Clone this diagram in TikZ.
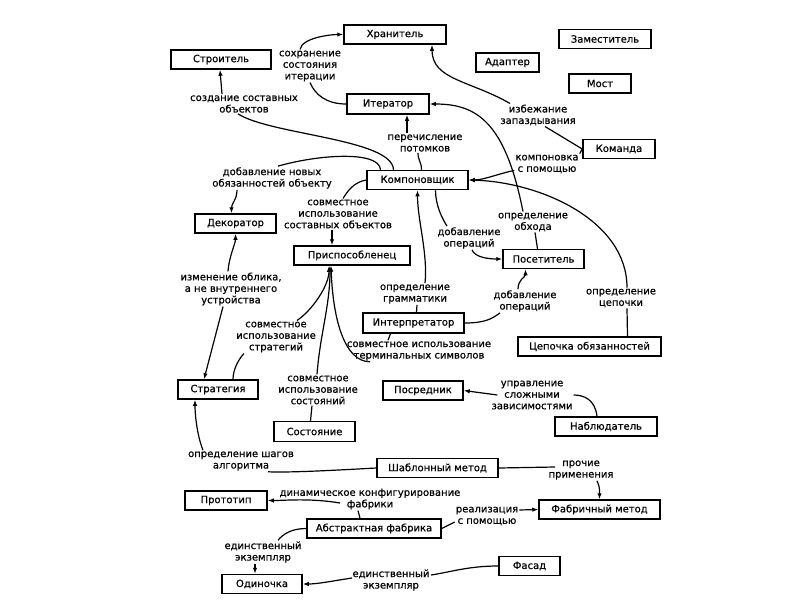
\documentclass[tikz,border=0pt]{standalone}
\usepackage{fontspec}
\setmainfont{DejaVu Sans}[FakeBold=0.6]
\usetikzlibrary{arrows.meta}
\begin{document}
\begin{tikzpicture}[x=1pt,y=-1pt,
  pat/.style={draw, line width=1.5pt, fill=white, minimum height=19pt, inner sep=0pt, font=\fontsize{10}{12}\selectfont},
  lab/.style={align=center, inner sep=1pt, font=\fontsize{10}{11.5}\selectfont},
  con/.style={line width=1.2pt},
  arr/.style={con, -{Latex[length=6pt,width=4.5pt]}}]
\fill[white] (0,0) rectangle (800,600);
\useasboundingbox (0,0) rectangle (800,600);
% pattern boxes
\node[pat,minimum width=102pt] (hran) at (395,34.5) {Хранитель};
\node[pat,minimum width=100pt] (stroi) at (221,59.5) {Строитель};
\node[pat,minimum width=92pt] (zam) at (605,39) {Заместитель};
\node[pat,minimum width=63pt] (adapt) at (507.5,62.5) {Адаптер};
\node[pat,minimum width=62pt] (most) at (600,83.5) {Мост};
\node[pat,minimum width=82pt,minimum height=20pt] (iter) at (388,104) {Итератор};
\node[pat,minimum width=72pt] (kom) at (619,149) {Команда};
\node[pat,minimum width=101pt] (komp) at (417.5,180) {Компоновщик};
\node[pat,minimum width=81pt] (dek) at (235.5,223.5) {Декоратор};
\node[pat,minimum width=116pt] (prisp) at (352,255.5) {Приспособленец};
\node[pat,minimum width=81pt] (pos) at (543.5,259) {Посетитель};
\node[pat,minimum width=101pt,minimum height=20pt] (interp) at (413.5,323) {Интерпретатор};
\node[pat,minimum width=143pt] (cep) at (589.5,346.5) {Цепочка обязанностей};
\node[pat,minimum width=80pt] (strat) at (218,389.5) {Стратегия};
\node[pat,minimum width=80pt] (posr) at (423,390.5) {Посредник};
\node[pat,minimum width=81pt,minimum height=20pt] (sost) at (314.5,431.5) {Состояние};
\node[pat,minimum width=102pt] (nabl) at (606,426.5) {Наблюдатель};
\node[pat,minimum width=121pt] (shab) at (437.5,468) {Шаблонный метод};
\node[pat,minimum width=82pt] (proto) at (226,500.5) {Прототип};
\node[pat,minimum width=121pt] (fabm) at (599.5,509.5) {Фабричный метод};
\node[pat,minimum width=134pt] (absf) at (374,528.5) {Абстрактная фабрика};
\node[pat,minimum width=80pt] (odin) at (262,584) {Одиночка};
\node[pat,minimum width=61pt] (fasad) at (529.5,566) {Фасад};
% labels
\node[lab] (l1) at (310,66) {сохранение\\состояния\\итерации};
\node[lab] (l2) at (244,104) {создание составных\\объектов};
\node[lab] (l3) at (425,143) {перечисление\\потомков};
\node[lab] (l4) at (272,178) {добавление новых\\обязанностей объекту};
\node[lab] (l5) at (338,214) {совместное\\использование\\составных объектов};
\node[lab] (l6) at (231,289) {изменение облика,\\а не внутреннего\\устройства};
\node[lab] (l7) at (415,294) {определение\\грамматики};
\node[lab] (l8) at (525,301) {добавление\\операций};
\node[lab] (l9) at (533,222) {определение\\обхода};
\node[lab] (l10) at (469,238) {добавление\\операций};
\node[lab] (l11) at (621,298) {определение\\цепочки};
\node[lab] (l12) at (538,115) {избежание\\запаздывания};
\node[lab] (l13) at (547,164) {компоновка\\с помощью};
\node[lab] (l14) at (276,337) {совместное\\использование\\стратегий};
\node[lab] (l15) at (419,351) {совместное использование\\терминальных символов};
\node[lab] (l16) at (318,390) {совместное\\использование\\состояний};
\node[lab] (l17) at (532,395) {управление\\сложными\\зависимостями};
\node[lab] (l18) at (241,461) {определение шагов\\алгоритма};
\node[lab] (l19) at (581,470) {прочие\\применения};
\node[lab] (l20) at (370,499) {динамическое конфигурирование\\фабрики};
\node[lab] (l21) at (487,516) {реализация\\с помощью};
\node[lab] (l22) at (263,552) {единственный\\экземпляр};
\node[lab] (l23) at (391,580) {единственный\\экземпляр};
% connectors
\draw[con] (iter.west) .. controls +(-20,0) and +(5,12) .. (l1.south);
\draw[arr] ([xshift=-10pt]l1.north) .. controls +(2,-12) and +(-12,0) .. (hran.west);
\draw[con] ([xshift=-24pt]komp.north) .. controls +(-1,-31) and +(32,21) .. ([xshift=-6pt]l2.south);
\draw[arr] ([xshift=-22pt]l2.north) -- ([xshift=-1pt]stroi.south);
\draw[con] ([xshift=4pt]komp.north) .. controls +(0,-8) and +(0,8) .. ([xshift=-7pt]l3.south);
\draw[arr] ([xshift=-18pt]l3.north) -- ([xshift=19pt]iter.south);
\draw[con] ([xshift=-37pt]komp.north) .. controls +(-1,-19) and +(42,-12) .. ([xshift=6pt]l4.north);
\draw[arr] ([xshift=-35pt]l4.south) .. controls +(0,10) and +(0,-10) .. ([xshift=-4pt]dek.north);
\draw[con] (komp.west) .. controls +(-12,2) and +(5,-8) .. ([xshift=5pt]l5.north);
\draw[arr] ([xshift=-6pt]l5.south) -- ([xshift=-20pt]prisp.north);
\draw[con] ([xshift=18pt]komp.south) .. controls +(0,15) and +(-5,-8) .. ([xshift=-22pt]l10.north);
\draw[arr] ([xshift=3pt]l10.south) .. controls +(3,8) and +(-12,0) .. (pos.west);
\draw[con] ([xshift=38pt]cep.north) -- ([xshift=6pt]l11.south);
\draw[arr] ([xshift=6pt]l11.north) .. controls +(0,-67) and +(72,2) .. (komp.east);
\draw[con] (kom.west) -- (l13.north east);
\draw[arr] ([yshift=4pt]l13.south west) .. controls +(-15,3) and +(15,0) .. (komp.east);
\draw[con] (kom.west) -- ([xshift=7pt]l12.south);
\draw[arr] ([xshift=-28pt]l12.north) .. controls +(-40,-23) and +(0,35) .. ([xshift=37pt]hran.south);
\draw[con] ([xshift=-6pt]pos.north) -- ([xshift=2pt]l9.south);
\draw[arr] ([xshift=-10pt]l9.north) .. controls +(-18,-91) and +(46,0) .. (iter.east);
\draw[con] ([xshift=3pt]interp.north) -- ([xshift=2pt]l7.south);
\draw[arr] ([xshift=10pt]l7.north) .. controls +(3,-30) and +(0,30) .. (komp.south);
\draw[con] (interp.east) .. controls +(20,0) and +(-8,6) .. ([xshift=-25pt]l8.south);
\draw[arr] ([xshift=-7pt]l8.north) .. controls +(0,-10) and +(0,8) .. ([xshift=-18pt]pos.south);
\draw[con] ([xshift=-23pt]interp.south) -- ([xshift=-31pt]l15.north);
\draw[arr] ([xshift=-49pt]l15.south) .. controls +(-25,0) and +(2,55) .. ([xshift=-21pt]prisp.south);
\draw[con] ([xshift=15pt]strat.north) .. controls +(0,-10) and +(-5,5) .. ([xshift=-32pt]l14.south);
\draw[arr] ([xshift=21pt]l14.north) .. controls +(15,-10) and +(0,20) .. ([xshift=-23pt]prisp.south);
\draw[con] ([xshift=-4pt]sost.north) -- ([xshift=-6pt]l16.south);
\draw[arr] ([xshift=-1pt]l16.north) .. controls +(3,-40) and +(0,40) .. ([xshift=-22pt]prisp.south);
\draw[arr] ([xshift=-3pt]l6.north) .. controls +(1,-15) and +(0,10) .. (dek.south);
\draw[arr] ([xshift=-8pt]l6.south) -- ([xshift=-14pt]strat.north);
\draw[con] (shab.west) .. controls +(-37,2) and +(22,1) .. ([xshift=27pt]l18.south);
\draw[arr] ([xshift=-38pt]l18.north) .. controls +(-6,-15) and +(0,15) .. ([xshift=-23pt]strat.south);
\draw[con] ([xshift=-9pt]nabl.north) .. controls +(-2,-17) and +(10,0) .. (l17.east);
\draw[arr] ([xshift=7pt]l17.west) -- (posr.east);
\draw[con] (shab.east) -- ([xshift=-26pt,yshift=3pt]l19.center);
\draw[arr] ([xshift=16pt]l19.south) .. controls +(3,6) and +(0,-8) .. (fabm.north);
\draw[con] ([xshift=-14pt]absf.north) -- ([xshift=-12pt]l20.south);
\draw[arr] ([xshift=-30pt,yshift=-4pt]l20.center) .. controls +(-30,-5) and +(18,0) .. (proto.east);
\draw[con] (absf.east) -- ([yshift=-6pt]l21.west);
\draw[arr] ([yshift=6pt]l21.east) -- (fabm.west);
\draw[con] (absf.west) .. controls +(-15,0) and +(5,-6) .. ([xshift=15pt]l22.north);
\draw[arr] ([xshift=-8pt]l22.south) -- ([xshift=-7pt]odin.north);
\draw[con] (fasad.west) .. controls +(-30,0) and +(20,-3) .. ([xshift=40pt,yshift=5pt]l23.center);
\draw[arr] ([xshift=-39pt,yshift=2pt]l23.center) .. controls +(-20,3) and +(15,0) .. (odin.east);
\end{tikzpicture}
\end{document}
